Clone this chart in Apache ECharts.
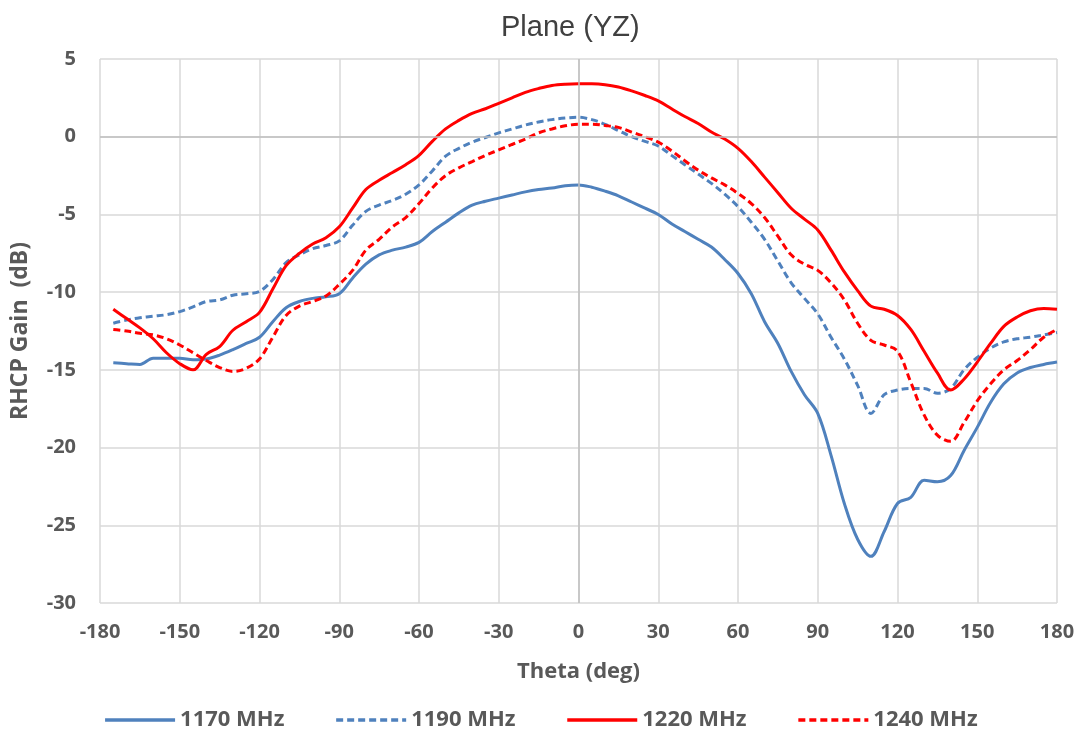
<!DOCTYPE html>
<html>
<head>
<meta charset="utf-8">
<script src="https://cdn.jsdelivr.net/npm/echarts@6/dist/echarts.min.js"></script>
<style>html,body{margin:0;padding:0;background:#fff;}#c{width:1081px;height:738px;}</style>
</head>
<body>
<div id="c"></div>
<script>
const theta = [-175,-170,-165,-160,-155,-150,-145,-140,-135,-130,-125,-120,-115,-110,-105,-100,-95,-90,-85,-80,-75,-70,-65,-60,-55,-50,-45,-40,-35,-30,-25,-20,-15,-10,-5,0,5,10,15,20,25,30,35,40,45,50,55,60,65,70,75,80,85,90,95,100,105,110,115,120,125,130,135,140,145,150,155,160,165,170,175,180];
const g1170 = [-14.55,-14.6,-14.65,-14.25,-14.25,-14.25,-14.35,-14.3,-14.05,-13.7,-13.3,-12.9,-11.9,-11.0,-10.6,-10.4,-10.3,-10.1,-9.1,-8.2,-7.6,-7.3,-7.1,-6.8,-6.1,-5.5,-4.9,-4.4,-4.15,-3.95,-3.75,-3.55,-3.4,-3.3,-3.15,-3.1,-3.25,-3.5,-3.8,-4.2,-4.6,-5.0,-5.6,-6.1,-6.6,-7.1,-7.9,-8.8,-10.1,-11.9,-13.3,-15.1,-16.6,-17.8,-20.5,-23.6,-25.9,-27.0,-25.4,-23.6,-23.2,-22.1,-22.2,-21.8,-20.2,-18.7,-17.1,-15.9,-15.2,-14.85,-14.65,-14.5];
const g1190 = [-12.0,-11.8,-11.65,-11.55,-11.45,-11.25,-10.95,-10.6,-10.5,-10.2,-10.1,-9.95,-9.2,-8.1,-7.6,-7.2,-7.0,-6.7,-5.7,-4.8,-4.4,-4.1,-3.7,-3.1,-2.2,-1.25,-0.75,-0.35,-0.05,0.25,0.5,0.75,0.95,1.1,1.2,1.25,1.1,0.8,0.4,0.0,-0.3,-0.6,-1.2,-1.8,-2.4,-3.0,-3.7,-4.5,-5.5,-6.6,-8.0,-9.4,-10.4,-11.4,-12.9,-14.3,-16.0,-17.8,-16.6,-16.3,-16.2,-16.2,-16.5,-16.2,-15.0,-14.2,-13.6,-13.2,-13.0,-12.9,-12.75,-12.6];
const g1220 = [-11.1,-11.7,-12.3,-13.0,-13.9,-14.6,-15.0,-14.0,-13.5,-12.45,-11.9,-11.3,-9.8,-8.3,-7.5,-6.9,-6.5,-5.8,-4.6,-3.4,-2.8,-2.3,-1.8,-1.2,-0.3,0.5,1.05,1.5,1.8,2.15,2.5,2.85,3.1,3.3,3.38,3.4,3.4,3.35,3.2,2.95,2.65,2.3,1.8,1.3,0.85,0.3,-0.15,-0.75,-1.6,-2.6,-3.6,-4.6,-5.3,-6.0,-7.3,-8.7,-9.9,-10.9,-11.1,-11.5,-12.4,-13.8,-15.2,-16.3,-15.6,-14.5,-13.3,-12.2,-11.6,-11.2,-11.05,-11.1];
const g1240 = [-12.4,-12.5,-12.65,-12.75,-13.0,-13.4,-13.9,-14.4,-14.85,-15.1,-14.9,-14.3,-12.9,-11.5,-10.9,-10.6,-10.25,-9.5,-8.6,-7.3,-6.6,-5.8,-5.2,-4.3,-3.3,-2.5,-2.0,-1.6,-1.2,-0.85,-0.5,-0.15,0.25,0.5,0.7,0.8,0.8,0.72,0.6,0.3,0.0,-0.35,-0.9,-1.55,-2.15,-2.65,-3.1,-3.65,-4.3,-5.2,-6.4,-7.6,-8.2,-8.6,-9.4,-10.5,-12.0,-13.1,-13.4,-13.8,-15.8,-17.9,-19.2,-19.6,-18.4,-17.0,-15.9,-15.0,-14.4,-13.7,-12.9,-12.4];
const seriesNames = ['1170 MHz','1190 MHz','1220 MHz','1240 MHz'];
const xTicks = [-180,180,30];
const yTicks = [-30,5,5];

const FONT = '"Open Sans", "Noto Sans", sans-serif';
const TFONT = '"Liberation Sans", Arial, sans-serif';
const pairs = arr => theta.map((t,i)=>[t,arr[i]]);
const mk = (name, arr, color, dashed) => ({
  name, type:'line', data: pairs(arr), smooth:0.35, showSymbol:false, symbol:'none',
  lineStyle:{color, width:3, type: dashed ? [7,4] : 'solid', cap:'butt'},
  itemStyle:{color}, z:3
});
const s = [
  mk(seriesNames[0], g1170, '#4f81bd', false),
  mk(seriesNames[1], g1190, '#4f81bd', true),
  mk(seriesNames[2], g1220, '#ff0000', false),
  mk(seriesNames[3], g1240, '#ff0000', true)
];
s[0].markLine = {silent:true, symbol:'none', label:{show:false}, animation:false,
  lineStyle:{color:'#bfbfbf', width:1.5, type:'solid'},
  data:[{yAxis:0},{xAxis:0}]};

const chart = echarts.init(document.getElementById('c'));
chart.setOption({
  animation:false,
  backgroundColor:'#fff',
  title:{text:'Plane (YZ)', left:496, top:8,
    textStyle:{fontFamily:TFONT, fontSize:29, fontWeight:'normal', color:'#404040'}},
  grid:{left:100, right:24, top:59, bottom:135},
  xAxis:{type:'value', min:xTicks[0], max:xTicks[1], interval:xTicks[2],
    name:'Theta (deg)', nameLocation:'middle', nameGap:58,
    nameTextStyle:{fontFamily:FONT, fontSize:22, fontWeight:'bold', color:'#595959'},
    axisLine:{show:false}, axisTick:{show:false},
    axisLabel:{fontFamily:FONT, fontSize:20, fontWeight:'bold', color:'#595959', margin:19},
    splitLine:{show:true, lineStyle:{color:'#d9d9d9', width:1.5}}},
  yAxis:{type:'value', min:yTicks[0], max:yTicks[1], interval:yTicks[2],
    name:'RHCP Gain  (dB)', nameLocation:'middle', nameGap:68, nameRotate:90,
    nameTextStyle:{fontFamily:FONT, fontSize:23, fontWeight:'bold', color:'#595959'},
    axisLine:{show:false}, axisTick:{show:false},
    axisLabel:{fontFamily:FONT, fontSize:20, fontWeight:'bold', color:'#595959', margin:24},
    splitLine:{show:true, lineStyle:{color:'#d9d9d9', width:1.5}}},
  legend:{bottom:2, left:'center', itemWidth:70, itemHeight:14, itemGap:50,
    data: seriesNames,
    itemStyle:{opacity:0},
    lineStyle:{width:3.5},
    textStyle:{fontFamily:FONT, fontSize:22, fontWeight:'bold', color:'#595959'}},
  series:s
});
</script>
</body>
</html>
